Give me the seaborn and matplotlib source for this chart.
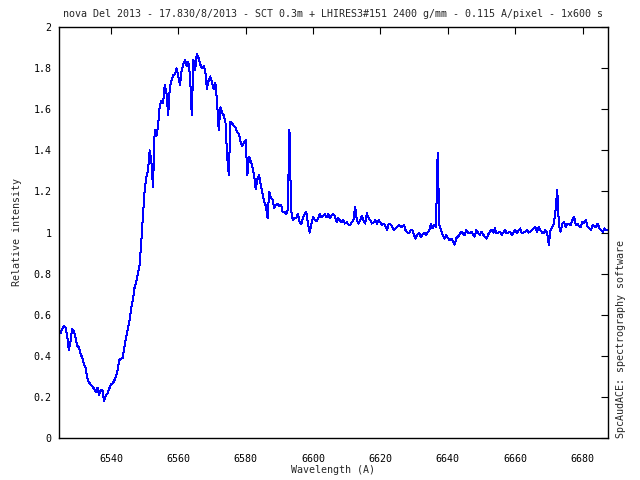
import numpy as np
import pandas as pd
import matplotlib; matplotlib.use("Agg")
import matplotlib.pyplot as plt
import seaborn as sns
from matplotlib.ticker import FuncFormatter, MultipleLocator

WL_STEP = 0.5

wl_blue = 6524.5
flux_blue = [
    0.525, 0.51, 0.53, 0.545, 0.54, 0.50, 0.43, 0.47, 0.53, 0.52,
    0.49, 0.45, 0.44, 0.41, 0.39, 0.36, 0.34, 0.29, 0.27, 0.26,
    0.25, 0.24, 0.225, 0.245, 0.21, 0.235, 0.23, 0.18, 0.21, 0.215,
    0.24, 0.26, 0.265, 0.28, 0.30, 0.33, 0.38, 0.385, 0.39, 0.44,
    0.49, 0.53, 0.57, 0.63, 0.67, 0.73, 0.76, 0.80,
]

wl_peak = 6548.5
flux_peak = [
    0.84, 0.95, 1.08, 1.20, 1.27, 1.30, 1.40, 1.35, 1.22, 1.50,
    1.47, 1.52, 1.62, 1.64, 1.63, 1.72, 1.68, 1.57, 1.71, 1.74,
    1.765, 1.77, 1.80, 1.76, 1.72, 1.79, 1.82, 1.84, 1.81, 1.83,
    1.76, 1.57, 1.84, 1.79, 1.87, 1.85, 1.82, 1.80, 1.81, 1.79,
    1.70, 1.74, 1.76, 1.73, 1.70, 1.73, 1.64, 1.50, 1.61, 1.585,
    1.57, 1.54, 1.37, 1.28, 1.54, 1.53, 1.52, 1.51, 1.49, 1.48,
]

wl_decline = 6578.5
flux_decline = [
    1.44, 1.42, 1.44, 1.45, 1.28, 1.37, 1.35, 1.32, 1.28, 1.21,
    1.26, 1.28, 1.23, 1.19, 1.15, 1.13, 1.07, 1.20, 1.17, 1.16,
    1.12, 1.135, 1.14, 1.13, 1.135, 1.10, 1.10, 1.09, 1.11, 1.50,
    1.11, 1.06, 1.07, 1.07, 1.09, 1.055, 1.04, 1.07, 1.09, 1.10,
    1.045, 1.00, 1.04, 1.075, 1.06, 1.055, 1.07, 1.09, 1.075, 1.08,
    1.09, 1.075, 1.09, 1.07,
]

wl_cont1 = 6605.5
flux_cont1 = [
    1.085, 1.09, 1.08, 1.05, 1.07, 1.06, 1.05, 1.06, 1.044, 1.05,
    1.04, 1.036, 1.05, 1.06, 1.125, 1.06, 1.044, 1.06, 1.08, 1.06,
    1.044, 1.093, 1.07, 1.06, 1.044, 1.05, 1.06, 1.044, 1.06, 1.05,
    1.036, 1.044, 1.03, 1.012, 1.044, 1.04, 1.028, 1.012, 1.02, 1.028,
    1.036, 1.03, 1.028, 1.036, 1.01, 1.0, 0.996, 1.01, 1.012, 0.987,
    0.971, 0.99, 0.996, 0.98, 0.99, 1.0, 0.987, 1.0, 1.012, 1.044,
    1.02, 1.036, 1.028, 1.39, 1.036, 1.012, 0.987, 0.971, 0.987, 0.975,
    0.963, 0.971, 0.96, 0.94, 0.971, 0.98, 0.99, 1.004, 0.996, 0.988,
    1.012, 1.0,
]

wl_cont2 = 6646.5
flux_cont2 = [
    0.996, 1.004, 0.99, 0.98, 1.012, 1.0, 0.988, 1.004, 0.99, 0.98,
    0.971, 0.99, 1.004, 1.012, 1.0, 1.02, 0.996, 1.0, 1.004, 0.988,
    1.0, 1.012, 0.996, 1.0, 1.004, 0.988, 1.0, 1.012, 0.996, 1.01,
    1.02, 0.996, 1.0, 1.004, 1.012, 1.0, 1.004, 1.012, 1.02, 1.028,
    1.004, 1.028, 1.012, 1.0, 0.996, 1.012, 1.0, 0.94, 1.012, 1.028,
    1.044, 1.11, 1.207, 1.036, 1.004, 1.044, 1.052, 1.028, 1.044, 1.04,
    1.036, 1.06, 1.077, 1.036, 1.044, 1.03, 1.028, 1.052, 1.045, 1.06,
    1.028, 1.02, 1.012, 1.036, 1.03, 1.028, 1.044, 1.02, 1.012, 1.004,
    1.02, 1.01, 1.015,
]

TITLE = ("nova Del 2013 - 17.830/8/2013 - SCT 0.3m + LHIRES3#151 2400 g/mm"
         " - 0.115 A/pixel - 1x600 s")
X_TICKS = [6540, 6560, 6580, 6600, 6620, 6640, 6660, 6680]

segments = [(wl_blue, flux_blue), (wl_peak, flux_peak), (wl_decline, flux_decline),
            (wl_cont1, flux_cont1), (wl_cont2, flux_cont2)]
df = pd.concat([
    pd.DataFrame({"wl": w0 + WL_STEP * np.arange(len(f)), "flux": f})
    for w0, f in segments
], ignore_index=True)

sns.set_style("white")
plt.rcParams["font.family"] = ["DejaVu Sans Mono"]
FS = 7.2

fig = plt.figure(figsize=(6.4, 4.8), dpi=100)
ax = fig.add_axes([0.0917, 0.0875, 0.859, 0.856])

sns.lineplot(data=df, x="wl", y="flux", ax=ax, color="#0000ff",
             lw=0.72, estimator=None, sort=False, antialiased=False)

ax.set_xlim(6524.5, 6687.7)
ax.set_ylim(0, 2)
ax.set_xticks(X_TICKS)
ax.yaxis.set_major_locator(MultipleLocator(0.2))
ax.yaxis.set_major_formatter(FuncFormatter(lambda v, p: f"{v:g}"))
ax.tick_params(direction="in", length=5, width=0.8, color="black",
               top=True, right=True, labelsize=FS, labelcolor="black")
ax.tick_params(axis="x", pad=11.5)
ax.tick_params(axis="y", pad=5)
for s in ax.spines.values():
    s.set_color("black"); s.set_linewidth(1.0)
ax.set_xlabel(""); ax.set_ylabel("")

fig.text(0.521, 0.971, TITLE, ha="center", va="center", fontsize=FS)
fig.text(0.521, 0.021, "Wavelength (A)", ha="center", va="center", fontsize=FS)
fig.text(0.027, 0.517, "Relative intensity", ha="center", va="center",
         rotation=90, fontsize=FS)
fig.text(0.9703, 0.0875, "SpcAudACE: spectrography software", ha="center",
         va="bottom", rotation=90, fontsize=FS)

fig.savefig("out.png", dpi=100)
